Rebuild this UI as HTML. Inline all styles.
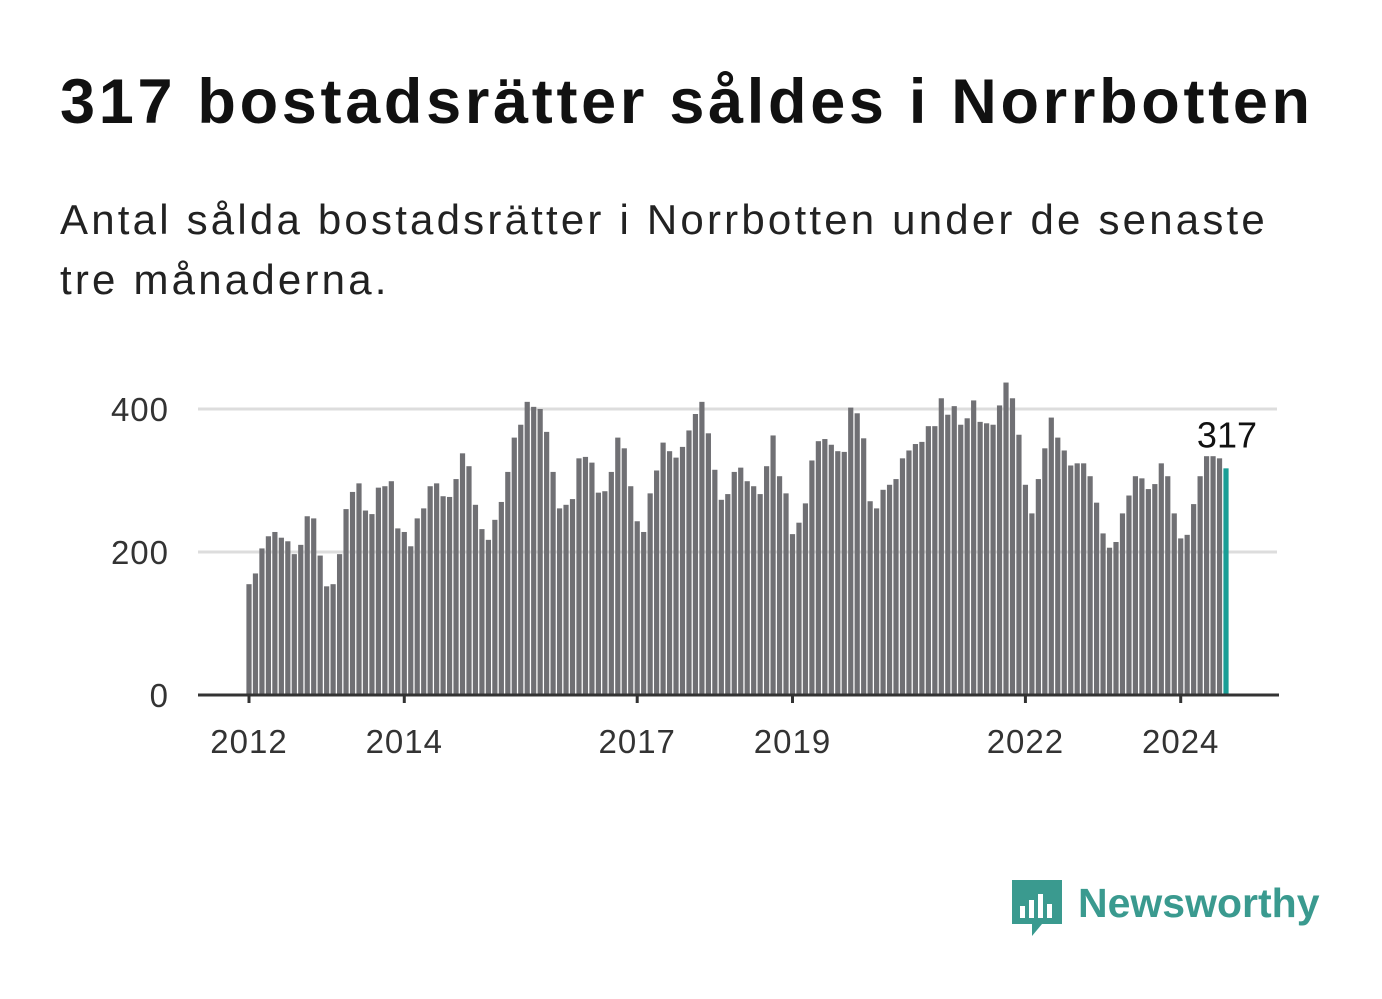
<!DOCTYPE html>
<html><head><meta charset="utf-8"><style>
body{margin:0;width:1382px;height:999px;background:#fff;font-family:"Liberation Sans","DejaVu Sans",sans-serif;overflow:hidden;position:relative}
h1{position:absolute;left:60px;top:66px;margin:0;font-size:63px;font-weight:bold;color:#111;letter-spacing:3.7px;white-space:nowrap}
p{position:absolute;left:60px;top:190px;margin:0;font-size:42px;line-height:60px;color:#222;letter-spacing:3.2px;white-space:nowrap}
</style></head><body>
<h1>317 bostadsrätter såldes i Norrbotten</h1>
<p>Antal sålda bostadsrätter i Norrbotten under de senaste<br>tre månaderna.</p>
<svg id="chart" width="1382" height="999" style="position:absolute;left:0;top:0"></svg>
<div style="position:absolute;left:1012px;top:880px;height:60px">
<svg width="50" height="60" style="position:absolute;left:0;top:0">
<path d="M0 0H50V44H30L20 56V44H0Z" fill="#3a9a8f"/>
<rect x="8" y="26" width="5" height="12" fill="#fff"/><rect x="17" y="20" width="5" height="18" fill="#fff"/><rect x="26" y="14" width="5" height="24" fill="#fff"/><rect x="35" y="24" width="5" height="14" fill="#fff"/></svg>
<span style="position:absolute;left:66px;top:0;font-size:41px;font-weight:bold;color:#3a9a8f;white-space:nowrap">Newsworthy</span>
</div>
<script>
const values=[155,170,205,222,228,220,215,197,210,250,247,195,152,155,197,260,284,296,258,253,290,292,299,233,228,208,247,261,292,296,278,277,302,338,320,266,232,217,245,270,312,360,378,410,403,400,368,312,261,266,274,331,333,325,283,285,312,360,345,292,243,228,282,314,353,341,332,347,370,393,410,366,315,273,281,312,318,299,292,281,320,363,306,282,225,241,268,328,355,358,350,341,340,402,394,359,271,261,287,294,302,331,342,351,354,376,376,415,392,404,378,387,412,382,380,378,405,437,415,364,294,254,302,345,388,360,342,321,324,324,306,269,226,206,214,254,279,306,303,288,295,324,306,254,219,224,267,306,334,334,331,317];
const yTicks=[0,200,400];
const xTickLabels=["2012","2014","2017","2019","2022","2024"];
const xTickIdx=[0,24,60,84,120,144];
const NS="http://www.w3.org/2000/svg";
const svg=document.getElementById('chart');
const x0=249,step=977/151,yBase=695,k=(695-409)/400;
const xs=i=>x0+i*step, ys=v=>yBase-v*k;
function mk(t,a){const e=document.createElementNS(NS,t);for(const n in a)e.setAttribute(n,a[n]);svg.appendChild(e);return e;}
yTicks.forEach(v=>{
 if(v>0){const g=mk('line',{x1:198,x2:1277,y1:ys(v),y2:ys(v),stroke:'#ddd','stroke-width':3});
 
 }
 const t=mk('text',{x:169,y:ys(v)+12,'text-anchor':'end','font-size':33,fill:'#333','font-family':'Liberation Sans, sans-serif','letter-spacing':1});
 t.textContent=v;
 
 
});
values.forEach((v,i)=>{
 const last=i===values.length-1;
 const r=mk('rect',{x:xs(i)-2.6,y:ys(v),width:5.2,height:v*k,fill:last?'#1a9e96':'#707074'});
 
 
});
const ax=mk('line',{x1:198,x2:1279,y1:yBase,y2:yBase,stroke:'#333','stroke-width':3});


xTickIdx.forEach((m,j)=>{
 const tk=mk('line',{x1:xs(m),x2:xs(m),y1:yBase,y2:yBase+8,stroke:'#333','stroke-width':3});
 
 
 const t=mk('text',{x:xs(m),y:yBase+58,'text-anchor':'middle','font-size':33,fill:'#333','font-family':'Liberation Sans, sans-serif','letter-spacing':1});
 t.textContent=xTickLabels[j];
 
 
});
const lv=values[values.length-1];
const lab=mk('text',{x:xs(values.length-1)+31,y:ys(lv)-21,'text-anchor':'end','font-size':36,fill:'#111','font-family':'Liberation Sans, sans-serif'});
lab.textContent=lv;


</script>
</body></html>
